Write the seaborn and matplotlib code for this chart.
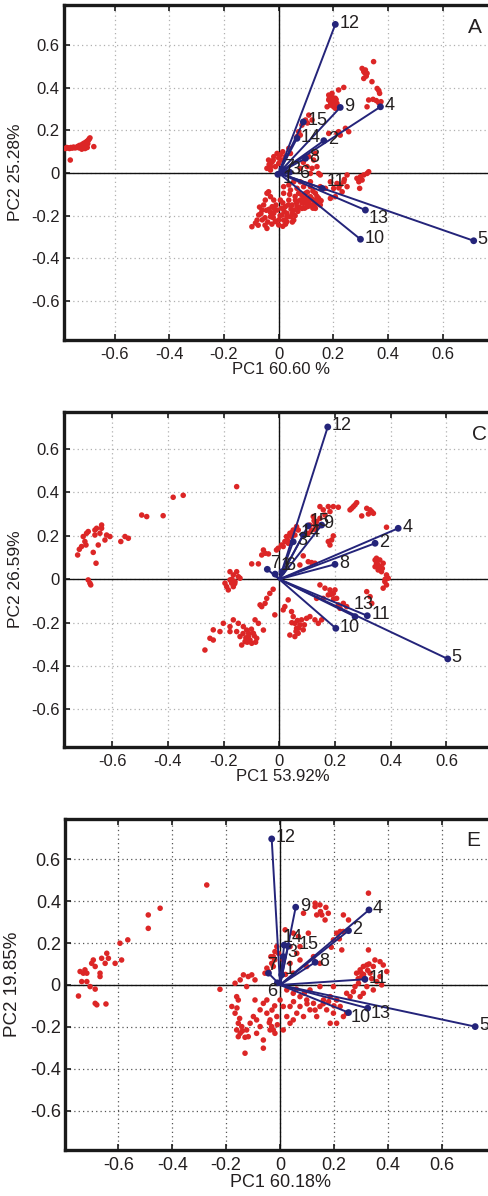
import matplotlib
matplotlib.use("Agg")
import matplotlib.pyplot as plt
import seaborn as sns
import pandas as pd

sns.set_style("white")
plt.rcParams["font.family"] = ["Liberation Sans", "DejaVu Sans"]
plt.rcParams["axes.unicode_minus"] = False

# ---------------- data ----------------
tick_vals = [-0.6, -0.4, -0.2, 0.0, 0.2, 0.4, 0.6]
tick_labels = ["-0.6", "-0.4", "-0.2", "0", "0.2", "0.4", "0.6"]

var_labels = ["1", "2", "3", "4", "5", "6", "7", "8", "9", "10", "11", "12", "13", "14", "15"]

# Panel A loadings
load_A_x = [-0.003, 0.165, 0.022, 0.372, 0.713, 0.040, 0.012, 0.098, 0.225, 0.299, 0.159, 0.207, 0.317, 0.067, 0.090]
load_A_y = [-0.006, 0.152, 0.008, 0.311, -0.318, 0.004, 0.018, 0.069, 0.308, -0.311, -0.072, 0.698, -0.174, 0.163, 0.240]
# Panel C loadings
load_C_x = [-0.015, 0.344, 0.050, 0.427, 0.605, 0.010, -0.043, 0.200, 0.152, 0.203, 0.316, 0.174, 0.272, 0.086, 0.103]
load_C_y = [0.024, 0.166, 0.173, 0.235, -0.367, 0.035, 0.046, 0.069, 0.250, -0.226, -0.168, 0.702, -0.172, 0.204, 0.246]
# Panel E loadings
load_E_x = [0.006, 0.254, 0.012, 0.330, 0.724, -0.010, -0.043, 0.130, 0.058, 0.254, 0.315, -0.031, 0.325, 0.015, 0.030]
load_E_y = [0.048, 0.259, 0.135, 0.358, -0.199, 0.010, 0.056, 0.108, 0.371, -0.132, 0.027, 0.697, -0.111, 0.190, 0.185]

# Panel A scores (PC1, PC2)
scores_A = [
    (-0.780, 0.115), (-0.775, 0.120), (-0.770, 0.118), (-0.765, 0.115), (-0.760, 0.120), (-0.755, 0.117),
    (-0.750, 0.122), (-0.745, 0.118), (-0.740, 0.120), (-0.735, 0.125), (-0.730, 0.118), (-0.728, 0.130),
    (-0.725, 0.122), (-0.720, 0.128), (-0.718, 0.135), (-0.715, 0.120), (-0.712, 0.140), (-0.710, 0.128),
    (-0.705, 0.145), (-0.703, 0.132), (-0.700, 0.150), (-0.698, 0.138), (-0.695, 0.155), (-0.693, 0.160),
    (-0.690, 0.165), (-0.700, 0.120), (-0.708, 0.115), (-0.762, 0.061), (-0.676, 0.124), (-0.720, 0.112),
    (0.347, 0.523), (0.305, 0.491), (0.311, 0.476), (0.317, 0.484), (0.323, 0.468), (0.311, 0.444),
    (0.341, 0.429), (0.360, 0.397), (0.366, 0.387), (0.369, 0.374), (0.329, 0.343), (0.345, 0.346),
    (0.357, 0.340), (0.366, 0.330), (0.374, 0.335), (0.323, 0.311), (0.315, 0.470), (0.320, 0.455),
    (0.183, 0.343), (0.195, 0.358), (0.201, 0.335), (0.207, 0.351), (0.189, 0.319), (0.213, 0.327),
    (0.177, 0.311), (0.201, 0.311), (0.195, 0.374), (0.219, 0.390), (0.238, 0.402), (0.183, 0.366),
    (0.207, 0.304), (0.190, 0.330), (0.210, 0.345), (0.195, 0.340), (0.205, 0.320), (0.185, 0.350),
    (0.110, 0.272), (0.098, 0.249), (0.085, 0.225), (0.073, 0.194), (0.079, 0.178), (0.122, 0.249),
    (0.067, 0.171), (0.105, 0.235),
    (0.183, 0.186), (0.213, 0.186), (0.219, 0.194), (0.244, 0.210), (0.256, 0.194), (0.225, 0.178),
    (-0.037, 0.061), (-0.030, 0.030), (-0.018, 0.077), (-0.006, 0.092), (0.006, 0.085), (0.012, 0.061),
    (0.024, 0.077), (0.000, 0.045), (-0.030, 0.014), (-0.012, 0.030), (-0.043, 0.022), (0.037, 0.116),
    (0.043, 0.092), (-0.025, 0.050), (-0.020, 0.060), (0.000, 0.070), (0.015, 0.100), (-0.035, 0.040),
    (0.110, 0.077), (0.128, 0.061), (0.122, 0.022), (0.140, 0.030), (0.104, 0.030), (0.134, 0.092),
    (0.146, -0.002), (0.079, 0.022), (0.116, -0.002), (0.090, 0.050),
    (0.189, -0.041), (0.213, -0.049), (0.225, -0.056), (0.238, -0.041), (0.201, -0.072), (0.207, -0.111),
    (0.189, -0.119), (0.250, -0.009), (0.286, -0.025), (0.299, -0.017), (0.311, -0.009), (0.323, -0.002),
    (0.329, 0.006), (0.293, -0.041), (0.296, -0.072), (0.305, -0.033), (0.152, -0.064), (0.171, -0.072),
    (0.232, -0.088), (0.250, -0.064), (0.152, -0.009), (0.220, -0.070), (0.240, -0.030),
    (-0.098, -0.252), (-0.079, -0.221), (-0.073, -0.197), (-0.061, -0.174), (-0.055, -0.150), (-0.049, -0.127),
    (-0.043, -0.095), (-0.037, -0.088), (-0.043, -0.260), (-0.030, -0.205), (-0.024, -0.158), (-0.018, -0.189),
    (-0.012, -0.228), (-0.006, -0.174), (0.000, -0.244), (0.006, -0.127), (0.012, -0.197), (0.018, -0.221),
    (0.024, -0.158), (0.030, -0.189), (0.037, -0.127), (0.043, -0.205), (0.049, -0.150), (0.055, -0.174),
    (0.061, -0.127), (0.067, -0.158), (0.073, -0.095), (0.079, -0.127), (0.085, -0.166), (0.091, -0.142),
    (0.098, -0.119), (0.104, -0.158), (0.110, -0.135), (0.116, -0.111), (0.122, -0.150), (0.128, -0.127),
    (0.134, -0.166), (0.140, -0.135), (0.146, -0.119), (0.152, -0.150), (0.055, -0.221), (0.030, -0.228),
    (-0.018, -0.127), (-0.030, -0.111), (0.018, -0.095), (0.043, -0.080), (0.067, -0.072), (0.091, -0.064),
    (0.116, -0.064), (0.079, -0.041), (0.055, -0.041), (0.018, -0.064), (0.037, -0.056), (0.116, -0.041),
    (0.098, -0.095), (0.134, -0.095),
    (-0.065, -0.190), (-0.050, -0.210), (-0.035, -0.170), (-0.020, -0.210), (-0.010, -0.150), (0.005, -0.200),
    (0.020, -0.180), (0.035, -0.150), (0.050, -0.190), (0.065, -0.140), (0.085, -0.140), (0.100, -0.130),
    (0.110, -0.155), (0.120, -0.120), (0.130, -0.145), (0.140, -0.110), (0.095, -0.165), (0.075, -0.160),
    (-0.040, -0.230), (-0.085, -0.235), (0.060, -0.200), (0.025, -0.240), (-0.025, -0.240), (0.000, -0.220),
    (0.105, -0.090), (0.125, -0.085),
    (-0.070, -0.160), (-0.060, -0.220), (-0.045, -0.175), (-0.030, -0.185), (-0.015, -0.170), (0.010, -0.165),
    (0.015, -0.140), (0.030, -0.205), (0.045, -0.170), (0.070, -0.180), (0.090, -0.120), (0.105, -0.145),
    (0.115, -0.125), (0.125, -0.165), (0.135, -0.130), (0.145, -0.145), (0.155, -0.130), (0.085, -0.105),
    (0.060, -0.110), (0.040, -0.100), (-0.050, -0.245), (-0.075, -0.245), (0.015, -0.250), (0.050, -0.230),
]

# Panel C scores
scores_C = [
    (-0.724, 0.112), (-0.710, 0.151), (-0.698, 0.174), (-0.704, 0.197), (-0.692, 0.212), (-0.686, 0.220),
    (-0.662, 0.227), (-0.656, 0.235), (-0.638, 0.250), (-0.638, 0.235), (-0.644, 0.212), (-0.662, 0.204),
    (-0.620, 0.204), (-0.608, 0.197), (-0.626, 0.181), (-0.650, 0.158), (-0.668, 0.124), (-0.658, 0.074),
    (-0.694, 0.158), (-0.686, -0.003), (-0.680, -0.018), (-0.677, -0.026), (-0.569, 0.174), (-0.554, 0.197),
    (-0.542, 0.189), (-0.494, 0.296), (-0.476, 0.289), (-0.417, 0.293), (-0.381, 0.378), (-0.345, 0.387),
    (-0.153, 0.427), (-0.718, 0.138),
    (-0.189, -0.034), (-0.177, -0.003), (-0.171, -0.018), (-0.165, 0.020), (-0.153, 0.035), (-0.147, 0.012),
    (-0.159, -0.011), (-0.183, -0.049), (-0.141, 0.005), (-0.177, 0.035), (-0.165, -0.034), (-0.195, -0.018),
    (-0.170, 0.000), (-0.160, -0.020),
    (-0.099, 0.071), (-0.075, 0.071), (-0.063, 0.112), (-0.051, 0.120), (-0.039, 0.117), (-0.057, 0.135),
    (-0.004, 0.143), (0.026, 0.197), (0.038, 0.212), (0.050, 0.227), (0.062, 0.243), (0.008, 0.158),
    (0.020, 0.174), (0.068, 0.227), (0.044, 0.197), (0.032, 0.166), (0.056, 0.204), (0.014, 0.151),
    (-0.010, 0.135), (0.030, 0.180), (0.045, 0.215),
    (0.122, 0.289), (0.134, 0.266), (0.140, 0.243), (0.116, 0.227), (0.104, 0.212), (0.146, 0.281),
    (0.128, 0.250), (0.130, 0.230), (0.125, 0.270), (0.110, 0.250),
    (0.146, 0.335), (0.176, 0.335), (0.194, 0.335), (0.212, 0.332), (0.182, 0.312), (0.158, 0.320),
    (0.164, 0.296),
    (0.254, 0.320), (0.266, 0.335), (0.278, 0.353), (0.272, 0.343), (0.260, 0.327),
    (0.314, 0.327), (0.326, 0.320), (0.338, 0.304), (0.320, 0.301), (0.296, 0.292), (0.332, 0.312),
    (0.385, 0.240),
    (0.344, 0.089), (0.349, 0.074), (0.361, 0.058), (0.355, 0.043), (0.361, 0.089), (0.373, 0.074),
    (0.385, 0.020), (0.391, 0.005), (0.379, -0.011), (0.385, -0.026), (0.373, -0.041), (0.349, 0.097),
    (0.367, 0.035), (0.344, 0.058), (0.350, 0.080), (0.355, 0.065), (0.370, 0.050), (0.380, 0.000),
    (0.194, 0.200), (0.176, 0.174), (0.182, 0.158), (0.188, 0.181),
    (0.086, 0.108), (0.104, 0.081), (0.116, 0.077), (0.128, 0.074), (0.074, 0.066),
    (0.146, -0.026), (0.164, -0.041), (0.182, -0.049), (0.194, -0.065), (0.176, -0.072), (0.158, -0.088),
    (0.200, -0.049), (0.206, -0.088), (0.212, -0.118), (0.218, -0.134), (0.230, -0.111), (0.242, -0.126),
    (0.134, -0.088), (0.195, -0.090), (0.185, -0.070),
    (0.314, -0.057), (0.326, -0.080), (0.332, -0.111),
    (0.032, -0.095), (0.044, -0.149), (0.050, -0.172), (0.056, -0.203), (0.062, -0.226), (0.068, -0.249),
    (0.074, -0.210), (0.080, -0.187), (0.038, -0.257), (0.056, -0.264), (0.086, -0.233), (0.098, -0.180),
    (0.110, -0.172), (0.128, -0.187), (0.140, -0.203), (0.152, -0.187), (0.014, -0.141), (0.020, -0.126),
    (-0.016, -0.164), (0.060, -0.240), (0.070, -0.225), (0.045, -0.200), (0.090, -0.210), (0.065, -0.190),
    (-0.022, -0.046), (-0.034, -0.065), (-0.045, -0.088), (-0.051, -0.111), (-0.063, -0.126), (-0.069, -0.118),
    (-0.165, -0.187), (-0.147, -0.203), (-0.129, -0.218), (-0.117, -0.234), (-0.111, -0.264), (-0.105, -0.280),
    (-0.099, -0.295), (-0.123, -0.287), (-0.135, -0.303), (-0.093, -0.249), (-0.081, -0.272), (-0.075, -0.203),
    (-0.087, -0.187), (-0.057, -0.234), (-0.141, -0.264), (-0.153, -0.241), (-0.177, -0.218), (-0.177, -0.241),
    (-0.110, -0.250), (-0.120, -0.270), (-0.090, -0.260), (-0.100, -0.230), (-0.130, -0.250), (-0.115, -0.290),
    (-0.085, -0.290),
    (-0.237, -0.233), (-0.249, -0.272), (-0.267, -0.326), (-0.237, -0.280), (-0.213, -0.241), (-0.201, -0.203),
]

# Panel E scores
scores_E = [
    (-0.748, -0.053), (-0.736, 0.016), (-0.730, 0.056), (-0.724, 0.072), (-0.717, 0.016), (-0.699, 0.103),
    (-0.693, 0.119), (-0.686, 0.088), (-0.686, -0.020), (-0.686, -0.088), (-0.680, -0.095), (-0.668, 0.056),
    (-0.662, 0.127), (-0.649, 0.103), (-0.643, 0.151), (-0.637, 0.127), (-0.646, -0.091), (-0.612, 0.103),
    (-0.594, 0.199), (-0.588, 0.119), (-0.565, 0.215), (-0.489, 0.334), (-0.489, 0.270), (-0.445, 0.366),
    (-0.272, 0.477), (-0.705, -0.008), (-0.717, 0.056), (-0.742, 0.064), (-0.668, 0.040),
    (-0.223, -0.021), (-0.167, 0.008), (-0.161, -0.056), (-0.155, -0.072), (-0.148, 0.024), (-0.136, 0.048),
    (-0.124, -0.008), (-0.118, 0.040), (-0.105, 0.048), (-0.093, 0.024), (-0.093, -0.072), (-0.179, -0.103),
    (-0.167, -0.135), (-0.155, -0.183), (-0.161, -0.215), (-0.155, -0.247), (-0.148, -0.231), (-0.142, -0.199),
    (-0.124, -0.215), (-0.118, -0.247), (-0.111, -0.183), (-0.087, -0.231), (-0.074, -0.199), (-0.062, -0.263),
    (-0.062, -0.302), (-0.130, -0.326), (-0.062, -0.088), (-0.049, -0.135), (-0.037, -0.167), (-0.025, -0.215),
    (-0.019, -0.231), (-0.012, -0.151), (-0.037, -0.215), (-0.031, -0.199), (-0.049, -0.072), (-0.074, -0.119),
    (-0.099, -0.151), (-0.087, -0.167), (-0.030, -0.120), (-0.020, -0.100), (-0.040, -0.180), (-0.010, -0.190),
    (-0.140, -0.220), (-0.130, -0.250), (-0.150, -0.160), (-0.160, -0.110),
    (0.130, 0.390), (0.148, 0.382), (0.130, 0.374), (0.087, 0.342), (0.136, 0.334), (0.155, 0.334),
    (0.167, 0.310), (0.179, 0.342), (0.328, 0.438), (0.235, 0.334), (0.254, 0.310), (0.223, 0.255),
    (0.210, 0.247), (0.235, 0.255), (0.198, 0.215), (0.229, 0.167), (0.328, 0.167), (0.019, 0.263),
    (0.049, 0.247), (0.068, 0.231), (0.105, 0.247), (0.037, 0.183), (0.074, 0.183), (0.062, 0.151),
    (0.012, 0.119), (0.037, 0.103), (0.074, 0.119), (0.124, 0.135), (0.099, 0.088), (0.148, 0.103),
    (0.049, 0.056), (-0.012, 0.183), (-0.025, 0.135), (-0.025, 0.088), (-0.006, 0.151),
    (0.150, 0.350), (0.170, 0.370), (0.220, 0.220), (0.190, 0.180), (0.020, 0.050), (-0.020, 0.120),
    (-0.043, 0.064), (-0.031, 0.103), (-0.034, 0.135), (-0.019, 0.159), (-0.049, 0.080), (-0.056, 0.056),
    (0.284, 0.056), (0.297, 0.072), (0.309, 0.088), (0.322, 0.095), (0.303, 0.040), (0.315, 0.024),
    (0.291, 0.008), (0.278, -0.008), (0.322, -0.008), (0.334, 0.056), (0.346, 0.088), (0.352, 0.119),
    (0.371, 0.111), (0.383, 0.095), (0.396, 0.064), (0.371, 0.040), (0.359, 0.016), (0.377, 0.000),
    (0.346, -0.024), (0.309, -0.040), (0.297, -0.056), (0.272, -0.032), (0.260, -0.056), (0.247, -0.040),
    (0.300, 0.060), (0.310, 0.050), (0.325, 0.070), (0.290, 0.030), (0.340, 0.030), (0.330, 0.100),
    (0.025, -0.024), (0.049, -0.040), (0.074, -0.056), (0.099, -0.072), (0.124, -0.088), (0.148, -0.103),
    (0.173, -0.119), (0.198, -0.135), (0.210, -0.072), (0.223, -0.103), (0.235, -0.151), (0.247, -0.135),
    (0.037, -0.103), (0.062, -0.135), (0.087, -0.151), (0.111, -0.119), (0.136, -0.151), (0.161, -0.072),
    (0.186, -0.056), (0.198, -0.008), (0.148, -0.008), (0.111, -0.024), (0.074, -0.103), (0.049, -0.167),
    (0.025, -0.151), (0.012, -0.103), (0.000, -0.072), (0.012, -0.215), (0.037, -0.183), (0.186, -0.183),
    (0.210, -0.183), (0.100, -0.090), (0.130, -0.120), (0.160, -0.090), (0.180, -0.080), (0.200, -0.100),
    (0.050, -0.080), (0.060, -0.020), (0.090, -0.040),
]

# ---------------- style ----------------
NAVY = "#24247a"
RED = "#dc2626"
TXT = "#231f20"
W, H = 489, 1196

panels = [
    dict(scores=scores_A, lx=load_A_x, ly=load_A_y, xlabel="PC1 60.60 %", ylabel="PC2 25.28%", letter="A",
         box=(64, 5, 340), xscale=273.5, xlim=(-0.785, 0.80), ylim=(-0.784, 0.789),
         fs=12, grid="#b0b0b0",
         off={"13": (3, -8), "11": (4, 7), "7": (2, 2), "3": (6, 2), "6": (9, -1), "1": (5, -4)}),
    dict(scores=scores_C, lx=load_C_x, ly=load_C_y, xlabel="PC1 53.92%", ylabel="PC2 26.59%", letter="C",
         box=(64, 412, 747), xscale=278.5, xlim=(-0.773, 0.80), ylim=(-0.773, 0.771),
         fs=12, grid="#b0b0b0",
         off={"13": (-1, 12), "7": (3, 6), "1": (6, 9), "6": (3, 6), "14": (-3, 3), "15": (2, 4), "9": (2, 2)}),
    dict(scores=scores_E, lx=load_E_x, ly=load_E_y, xlabel="PC1 60.18%", ylabel="PC2 19.85%", letter="E",
         box=(65, 819, 1150), xscale=269.5, xlim=(-0.798, 0.80), ylim=(-0.788, 0.792),
         fs=13, grid="#555555",
         off={"6": (-10, -9), "7": (-1, 8), "14": (-1, 8), "15": (10, 2), "10": (2, -5), "13": (3, -5),
              "3": (4, 4), "1": (3, 5)}),
]

fig = plt.figure(figsize=(W / 100, H / 100), dpi=100)

for p in panels:
    left, top, bottom = p["box"]
    width_px = (p["xlim"][1] - p["xlim"][0]) * p["xscale"]
    ax = fig.add_axes([left / W, 1 - bottom / H, width_px / W, (bottom - top) / H])
    ax.set_xlim(*p["xlim"])
    ax.set_ylim(*p["ylim"])

    ax.set_xticks(tick_vals)
    ax.set_xticklabels(tick_labels)
    ax.set_yticks(tick_vals)
    ax.set_yticklabels(tick_labels)
    ax.grid(True, linestyle=(0, (1, 2.5)), color=p["grid"], linewidth=0.9)
    ax.set_axisbelow(True)

    ax.axhline(0, color="#111111", lw=1.0, zorder=2)
    ax.axvline(0, color="#111111", lw=1.0, zorder=2)

    df = pd.DataFrame(p["scores"], columns=["PC1", "PC2"])
    sns.scatterplot(data=df, x="PC1", y="PC2", ax=ax, color=RED, s=16, edgecolor="none",
                    linewidth=0, zorder=3)

    for x, y in zip(p["lx"], p["ly"]):
        ax.plot([0, x], [0, y], color=NAVY, lw=1.4, zorder=4, solid_capstyle="round")
    sns.scatterplot(x=p["lx"], y=p["ly"], ax=ax, color=NAVY, s=24, edgecolor="none",
                    linewidth=0, zorder=5)
    for x, y, lab in zip(p["lx"], p["ly"], var_labels):
        dx, dy = p["off"].get(lab, (4, 1))
        ax.annotate(lab, (x, y), xytext=(dx * 0.72, dy * 0.72), textcoords="offset points",
                    ha="left", va="center", fontsize=13, color=TXT, zorder=6)

    for side in ["top", "left", "bottom"]:
        ax.spines[side].set_linewidth(2.4)
        ax.spines[side].set_color("#1a1a1a")
    ax.spines["right"].set_visible(False)

    ax.tick_params(direction="in", length=4, width=1.2, top=True, bottom=True, left=True, right=False,
                   labeltop=False, pad=3, labelsize=p["fs"], labelcolor=TXT, color="#1a1a1a")
    ax.tick_params(axis="x", pad=5)

    ax.set_xlabel(p["xlabel"], fontsize=p["fs"], color=TXT, labelpad=0)
    ax.set_ylabel(p["ylabel"], fontsize=p["fs"] + 0.5, color=TXT, labelpad=6)
    ax.text(0.948, 0.934, p["letter"], transform=ax.transAxes, ha="center", va="center",
            fontsize=15, color=TXT)

fig.savefig("out.png", dpi=100)
